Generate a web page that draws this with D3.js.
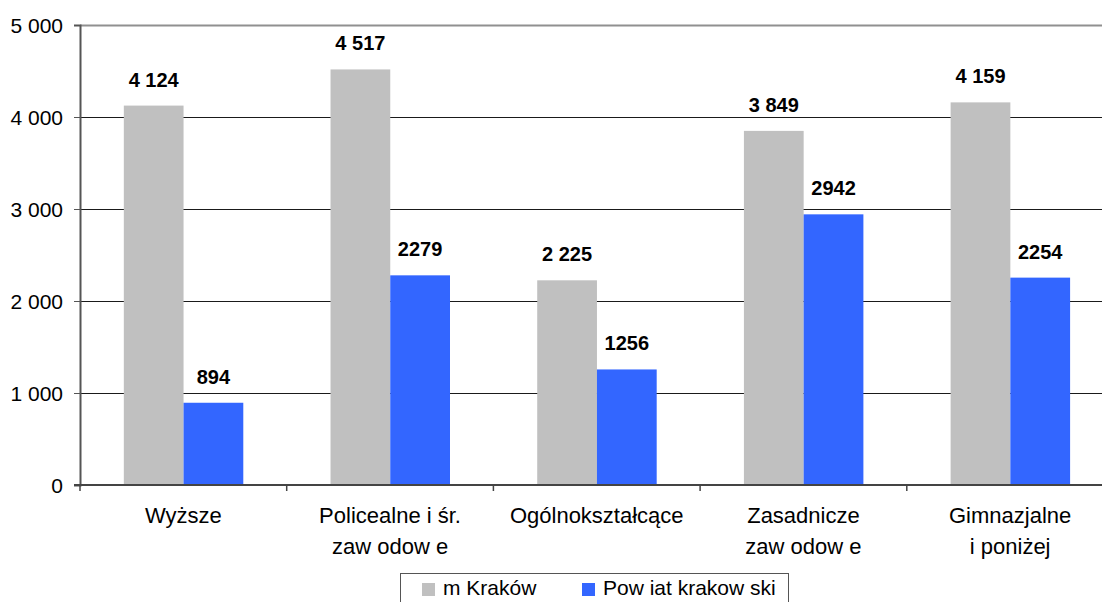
<!DOCTYPE html>
<html>
<head>
<meta charset="utf-8">
<script src="https://cdn.jsdelivr.net/npm/d3@7"></script>
<style>
  body { margin: 0; background: #ffffff; }
  svg { display: block; font-family: "Liberation Sans", Arial, sans-serif; }
</style>
</head>
<body>
<script>
// data
const categories = ["Wyższe", "Policealne i śr. zawodowe", "Ogólnokształcące", "Zasadnicze zawodowe", "Gimnazjalne i poniżej"];
const catLines = [["Wyższe"], ["Policealne i śr.", "zaw odow e"], ["Ogólnokształcące"], ["Zasadnicze", "zaw odow e"], ["Gimnazjalne", "i poniżej"]];
const seriesNames = ["m Kraków", "Pow iat krakow ski"];
const krakow = [4124, 4517, 2225, 3849, 4159];
const powiat = [894, 2279, 1256, 2942, 2254];
const yTicks = [0, 1000, 2000, 3000, 4000, 5000];

const gray_col = "#C0C0C0";
const blue_col = "#3366FF";
const colors = [gray_col, blue_col];

const width = 1102, height = 602;
const margin = { top: 25, left: 80, bottom: 485, right: 1113.5 };

const svg = d3.select("body").append("svg")
  .attr("width", width)
  .attr("height", height);

const x0 = d3.scaleBand()
  .domain(categories)
  .range([margin.left, margin.right])
  .padding(0);

const bw = x0.bandwidth();
const x1 = d3.scaleBand()
  .domain(seriesNames)
  .range([bw * 0.212, bw * 0.79])
  .padding(0);

const y = d3.scaleLinear()
  .domain([0, 5000])
  .range([margin.bottom, margin.top]);

const fmtSpace = d => d3.format(",")(d).replace(/,/g, " ");

// gridlines
svg.append("g")
  .selectAll("line")
  .data(yTicks.filter(d => d > 0 && d < 5000))
  .enter().append("line")
  .attr("x1", margin.left).attr("x2", width)
  .attr("y1", d => y(d) + 0.5).attr("y2", d => y(d) + 0.5)
  .style("stroke", "#1a1a1a")
  .style("stroke-width", 1);

// top border line
svg.append("line")
  .attr("x1", margin.left).attr("x2", width)
  .attr("y1", y(5000) + 0.5).attr("y2", y(5000) + 0.5)
  .style("stroke", "#909090")
  .style("stroke-width", 2);

// bars
const rows = categories.map((c, i) => ({ cat: c, vals: [krakow[i], powiat[i]] }));

const groups = svg.append("g").selectAll("g")
  .data(rows)
  .enter().append("g")
  .attr("transform", d => "translate(" + x0(d.cat) + ",0)");

groups.selectAll("rect")
  .data(d => d.vals.map((v, j) => ({ s: seriesNames[j], v: v, j: j })))
  .enter().append("rect")
  .attr("x", d => x1(d.s))
  .attr("width", x1.bandwidth())
  .attr("y", d => y(d.v))
  .attr("height", d => y(0) - y(d.v))
  .style("fill", d => colors[d.j]);

// value labels
groups.selectAll("text.val")
  .data(d => d.vals.map((v, j) => ({ s: seriesNames[j], v: v, j: j })))
  .enter().append("text")
  .attr("class", "val")
  .attr("x", d => x1(d.s) + x1.bandwidth() / 2)
  .attr("y", d => y(d.v) - 19)
  .attr("text-anchor", "middle")
  .style("font-size", "20px")
  .style("font-weight", "bold")
  .style("fill", "#000")
  .text(d => d.j === 0 ? fmtSpace(d.v) : String(d.v));

// y axis
const yAxis = d3.axisLeft(y)
  .tickValues(yTicks)
  .tickSize(6)
  .tickPadding(11)
  .tickFormat(fmtSpace);

const gy = svg.append("g")
  .attr("transform", "translate(" + margin.left + ",0)")
  .call(yAxis);
gy.select(".domain").style("stroke", "#555").style("stroke-width", 2);
gy.selectAll(".tick line").style("stroke", "#555");
gy.selectAll(".tick text")
  .style("font-size", "21px")
  .style("fill", "#000")
  .attr("dy", "0.34em")
  .style("font-family", "'Liberation Sans', Arial, sans-serif");

// x axis line and ticks at category boundaries
svg.append("line")
  .attr("x1", margin.left - 6).attr("x2", width)
  .attr("y1", y(0)).attr("y2", y(0))
  .style("stroke", "#444")
  .style("stroke-width", 2);

svg.append("g").selectAll("line")
  .data(categories)
  .enter().append("line")
  .attr("x1", d => x0(d)).attr("x2", d => x0(d))
  .attr("y1", y(0)).attr("y2", y(0) + 6)
  .style("stroke", "#444")
  .style("stroke-width", 1.5);

// category labels
const xl = svg.append("g").selectAll("text")
  .data(categories)
  .enter().append("text")
  .attr("x", d => x0(d) + bw / 2)
  .attr("y", 523)
  .attr("text-anchor", "middle")
  .style("font-size", "22px")
  .style("fill", "#000");

xl.selectAll("tspan")
  .data((d, i) => catLines[i])
  .enter().append("tspan")
  .attr("x", function () { return d3.select(this.parentNode).attr("x"); })
  .attr("dy", (d, i) => i === 0 ? 0 : 31)
  .text(d => d);

// legend
const legend = svg.append("g");
legend.append("rect")
  .attr("x", 400.5).attr("y", 573.5)
  .attr("width", 388).attr("height", 40)
  .style("fill", "#fff")
  .style("stroke", "#555")
  .style("stroke-width", 1);

const legX = [422, 582];
const items = legend.selectAll("g")
  .data(seriesNames)
  .enter().append("g")
  .attr("transform", (d, i) => "translate(" + legX[i] + ",0)");

items.append("rect")
  .attr("x", 0).attr("y", 583)
  .attr("width", 13).attr("height", 13)
  .style("fill", (d, i) => colors[i]);

items.append("text")
  .attr("x", 21).attr("y", 595)
  .style("font-size", "21px")
  .style("fill", "#000")
  .text(d => d);
</script>
</body>
</html>
